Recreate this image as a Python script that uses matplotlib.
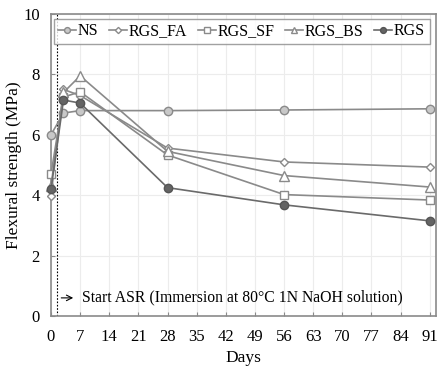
import matplotlib.pyplot as plt

plt.rcParams['font.family'] = ['Liberation Serif', 'DejaVu Serif']

days = [0, 3, 7, 28, 56, 91]
ns = [6.0, 6.72, 6.8, 6.8, 6.82, 6.86]
rgs_fa = [3.97, 7.5, 7.3, 5.56, 5.1, 4.93]
rgs_sf = [4.7, 7.25, 7.42, 5.33, 4.02, 3.84]
rgs_bs = [4.3, 7.4, 7.95, 5.45, 4.65, 4.27]
rgs = [4.2, 7.15, 7.05, 4.25, 3.68, 3.15]

labels = ['NS', 'RGS_FA', 'RGS_SF', 'RGS_BS', 'RGS']
x_ticks = list(range(0, 92, 7))
y_ticks = [0, 2, 4, 6, 8, 10]

fig = plt.figure(figsize=(4.37, 3.72), dpi=100)
ax = fig.add_axes([0.1167, 0.1505, 0.881, 0.812])

line_col = '#8a8a8a'
styles = [
    dict(marker='o', mfc='#c8c8c8', ms=6),
    dict(marker='D', mfc='white', ms=4.5),
    dict(marker='s', mfc='white', ms=6),
    dict(marker='^', mfc='white', ms=6.5),
    dict(marker='o', mfc='#646464', ms=6),
]
series = [ns, rgs_fa, rgs_sf, rgs_bs, rgs]
for vals, lab, st in zip(series, labels, styles):
    mec = '#555555' if lab == 'RGS' else '#8a8a8a'
    col = '#6a6a6a' if lab == 'RGS' else line_col
    ax.plot(days, vals, color=col, lw=1.2, mec=mec, mew=1.0,
            label=lab, clip_on=False, zorder=3, **st)

# dotted line for start of ASR
ax.axvline(1.5, color='black', ls=(0, (1.5, 1.5)), lw=0.8, zorder=2)
ax.annotate('', xy=(6, 0.6), xytext=(1.8, 0.6),
            arrowprops=dict(arrowstyle='->', color='black', lw=0.8))
ax.text(7.5, 0.6, 'Start ASR (Immersion at 80\u00b0C 1N NaOH solution)',
        va='center', ha='left', fontsize=11.3)

ax.set_xlim(0, 92.5)
ax.set_ylim(0, 10)
ax.set_xticks(x_ticks)
ax.set_yticks(y_ticks)
ax.tick_params(direction='in', length=3, color='#8a8a8a', labelsize=12)
ax.tick_params(axis='x', pad=9)
ax.tick_params(axis='y', pad=8)
ax.grid(True, color='#ececec', lw=0.8)
ax.set_axisbelow(True)
for sp in ax.spines.values():
    sp.set_color('#8a8a8a')
    sp.set_linewidth(1.2)

ax.set_xlabel('Days', fontsize=12.5, labelpad=4)
ax.set_ylabel('Flexural strength (MPa)', fontsize=12.5, labelpad=1)

leg = ax.legend(loc='upper center', ncol=5, fontsize=11.5, frameon=True,
                fancybox=False, edgecolor='#8a8a8a', handlelength=1.1,
                handletextpad=0.1, columnspacing=0.7, borderpad=0.3,
                borderaxespad=0.2, markerscale=0.7,
                bbox_to_anchor=(0.495, 0.995))
leg.get_frame().set_linewidth(1.0)

fig.savefig('out.png', dpi=100)
